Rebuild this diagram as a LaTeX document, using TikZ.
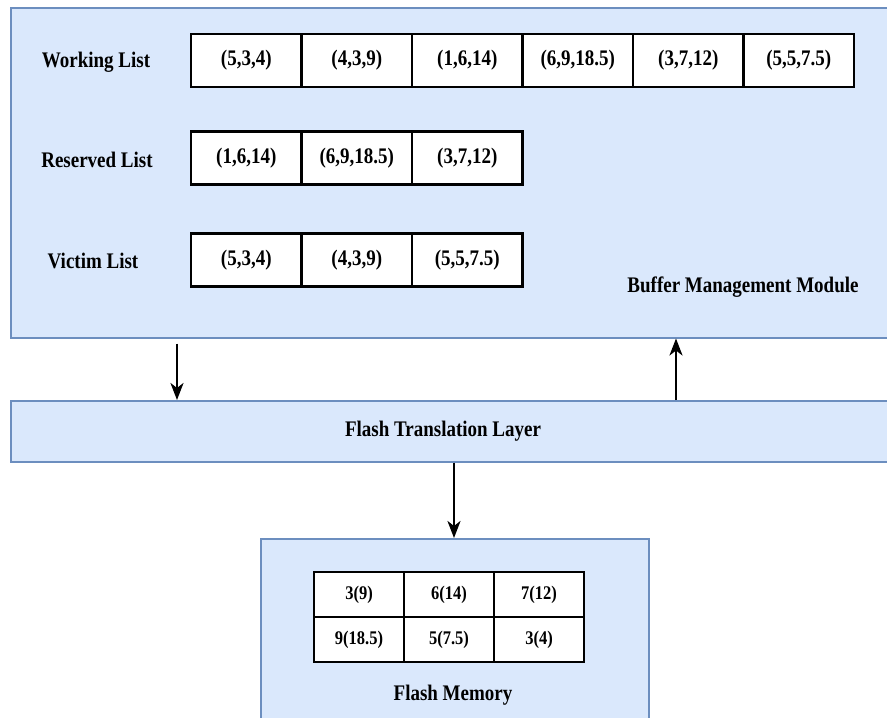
\documentclass[tikz,border=0pt]{standalone}
\usepackage{fontspec}
\setmainfont{Liberation Serif}
\usetikzlibrary{arrows.meta}
\definecolor{boxfill}{HTML}{DAE8FC}
\definecolor{boxline}{HTML}{6C8EBF}
\newcommand\tallt[1]{\scalebox{1}[1.17]{#1}}
\begin{document}
\begin{tikzpicture}[x=1pt,y=-1pt,
  panel/.style={draw=boxline, fill=boxfill, line width=1.5pt, inner sep=0pt},
  cell/.style={draw=black, fill=white, line width=2.2pt, minimum width=110.5pt, minimum height=53pt, inner sep=0pt, font=\bfseries\fontsize{19}{22}\selectfont},
  fcell/.style={draw=black, fill=white, line width=2.2pt, minimum width=90pt, minimum height=45pt, inner sep=0pt, font=\bfseries\fontsize{16.5}{20}\selectfont},
  lbl/.style={font=\bfseries\fontsize{19}{22}\selectfont, inner sep=0pt},
  arr/.style={draw=black, line width=2.5pt, -{Stealth[length=17pt,width=13pt,inset=5pt]}}]
\useasboundingbox (0,0) rectangle (887,718);
\fill[white] (0,0) rectangle (887,718);
\begin{scope}
\clip (0,0) rectangle (887,718);
% panels
\node[panel, minimum width=884pt, minimum height=330pt, anchor=north west] (bmm) at (10,7) {};
\node[panel, minimum width=884pt, minimum height=61pt, anchor=north west] (ftl) at (10,400) {};
\node[panel, minimum width=388pt, minimum height=200pt, anchor=north west] (fm) at (260,538) {};
\end{scope}
% labels
\node[lbl] (lw) at (96,62) {\tallt{Working List}};
\node[lbl] (lr) at (97,160) {\tallt{Reserved List}};
\node[lbl] (lv) at (93,261) {\tallt{Victim List}};
\node[lbl] (lbmm) at (743,287) {\tallt{Buffer Management Module}};
\node[lbl] (lftl) at (443,431) {\tallt{Flash Translation Layer}};
\node[lbl] (lfm) at (453,695) {\tallt{Flash Memory}};
% working list
\node[cell] (w1) at (246.25,60.5) {\tallt{(5,3,4)}};
\node[cell] (w2) at (356.75,60.5) {\tallt{(4,3,9)}};
\node[cell] (w3) at (467.25,60.5) {\tallt{(1,6,14)}};
\node[cell] (w4) at (577.75,60.5) {\tallt{(6,9,18.5)}};
\node[cell] (w5) at (688.25,60.5) {\tallt{(3,7,12)}};
\node[cell] (w6) at (798.75,60.5) {\tallt{(5,5,7.5)}};
% reserved list
\node[cell] (r1) at (246.25,158) {\tallt{(1,6,14)}};
\node[cell] (r2) at (356.75,158) {\tallt{(6,9,18.5)}};
\node[cell] (r3) at (467.25,158) {\tallt{(3,7,12)}};
% victim list
\node[cell] (v1) at (246.25,260) {\tallt{(5,3,4)}};
\node[cell] (v2) at (356.75,260) {\tallt{(4,3,9)}};
\node[cell] (v3) at (467.25,260) {\tallt{(5,5,7.5)}};
% flash grid
\node[fcell] (f1) at (359,594.5) {\tallt{3(9)}};
\node[fcell] (f2) at (449,594.5) {\raisebox{-5pt}{\tallt{6(14)}}};
\node[fcell] (f3) at (539,594.5) {\tallt{7(12)}};
\node[fcell] (f4) at (359,639.5) {\tallt{9(18.5)}};
\node[fcell] (f5) at (449,639.5) {\tallt{5(7.5)}};
\node[fcell] (f6) at (539,639.5) {\tallt{3(4)}};
% arrows
\draw[arr] ([xshift=167pt,yshift=-5pt]bmm.south west) -- ([xshift=167pt]ftl.north west);
\draw[arr] ([xshift=666pt]ftl.north west) -- ([xshift=666pt]bmm.south west);
\draw[arr] ([xshift=444pt]ftl.south west) -- ([xshift=194pt]fm.north west);
\end{tikzpicture}
\end{document}
